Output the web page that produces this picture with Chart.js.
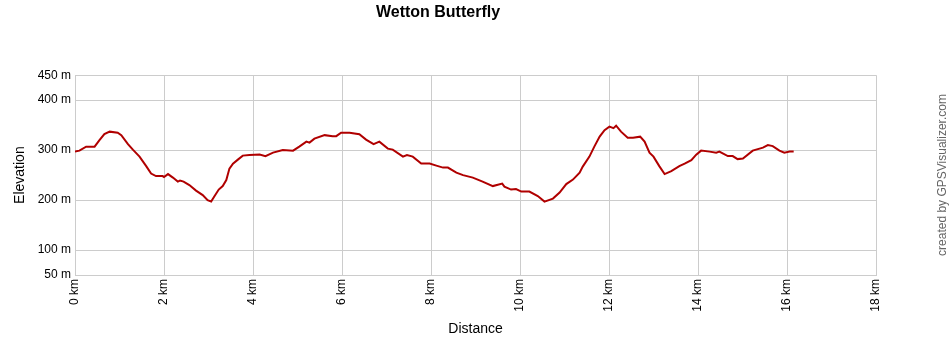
<!DOCTYPE html>
<html>
<head>
<meta charset="utf-8">
<title>Wetton Butterfly</title>
<script src="https://cdn.jsdelivr.net/npm/chart.js@4/dist/chart.umd.min.js"></script>
<style>
  body { margin: 0; background: #fff; }
  #wrap { width: 950px; height: 350px; }
</style>
</head>
<body>
<div id="wrap"><canvas id="profile" width="950" height="350"></canvas></div>
<script>
// distance along the track (km) and elevation (m)
const distanceKm = [
  0, 0.1, 0.25, 0.44, 0.55, 0.66, 0.78, 0.96, 1.04, 1.19,
  1.3, 1.45, 1.6, 1.71, 1.82, 1.97, 2.0, 2.09, 2.2, 2.31,
  2.36, 2.44, 2.57, 2.72, 2.87, 2.98, 3.06, 3.13, 3.23, 3.32,
  3.4, 3.47, 3.55, 3.66, 3.77, 3.92, 4.15, 4.28, 4.45, 4.67,
  4.9, 5.04, 5.2, 5.27, 5.38, 5.61, 5.79, 5.87, 5.98, 6.17,
  6.39, 6.54, 6.71, 6.84, 7.03, 7.14, 7.37, 7.46, 7.59, 7.78,
  7.97, 8.12, 8.27, 8.38, 8.57, 8.72, 8.94, 9.16, 9.39, 9.6,
  9.65, 9.8, 9.91, 10.03, 10.21, 10.4, 10.55, 10.74, 10.89, 11.04,
  11.19, 11.34, 11.41, 11.56, 11.67, 11.79, 11.9, 12.01, 12.1, 12.16,
  12.27, 12.42, 12.54, 12.7, 12.8, 12.91, 13.0, 13.13, 13.25, 13.4,
  13.58, 13.7, 13.85, 13.96, 14.07, 14.26, 14.41, 14.48, 14.67, 14.78,
  14.89, 15.01, 15.23, 15.46, 15.57, 15.68, 15.83, 15.94, 16.06, 16.15
];
const elevationM = [
  297, 299, 307, 307, 320, 332, 337, 335, 330, 312,
  301, 287, 268, 253, 248, 248, 246, 252, 245, 237,
  239, 237, 230, 219, 210, 200, 197, 207, 221, 228,
  240, 263, 273, 281, 289, 290, 291, 288, 295, 300,
  299, 307, 317, 315, 323, 330, 328, 328, 335, 335,
  332, 321, 312, 317, 303, 301, 287, 290, 287, 273,
  273, 269, 265, 265, 255, 250, 245, 237, 228, 233,
  227, 221, 222, 217, 217, 208, 197, 203, 215, 232,
  241, 255, 267, 287, 307, 327, 340, 347, 344, 349,
  337, 325, 325, 327, 317, 295, 287, 268, 252, 258,
  268, 273, 280, 291, 299, 297, 295, 297, 288, 288,
  282, 283, 299, 305, 310, 308, 299, 295, 297, 297
];
const elevationTicks = [50, 100, 200, 300, 400, 450];

const points = distanceKm.map((d, i) => ({ x: d, y: elevationM[i] }));

// the "created by" credit down the right edge
const creditPlugin = {
  id: 'credit',
  afterDraw(chart) {
    const ctx = chart.ctx;
    ctx.save();
    ctx.translate(943, 175);
    ctx.rotate(-Math.PI / 2);
    ctx.fillStyle = '#666';
    ctx.font = '12px "Liberation Sans", Arial, sans-serif';
    ctx.textAlign = 'center';
    ctx.textBaseline = 'middle';
    ctx.fillText('created by GPSVisualizer.com', 0, 0);
    ctx.restore();
  }
};

const tickFont = { family: '"Liberation Sans", Arial, sans-serif', size: 12 };

new Chart(document.getElementById('profile'), {
  type: 'line',
  data: {
    datasets: [{
      data: points,
      borderColor: '#b00000',
      borderWidth: 2,
      pointRadius: 0,
      tension: 0,
      fill: false
    }]
  },
  options: {
    responsive: false,
    animation: false,
    layout: { padding: { left: 0, right: 74, top: 0, bottom: 0 } },
    plugins: {
      legend: { display: false },
      tooltip: { enabled: false },
      title: {
        display: true,
        text: 'Wetton Butterfly',
        color: '#000',
        font: { family: '"Liberation Sans", Arial, sans-serif', size: 16, weight: 'bold' },
        padding: { top: 3, bottom: 53 }
      }
    },
    scales: {
      x: {
        type: 'linear',
        min: 0,
        max: 18,
        afterFit(s) { s.height = 75; },
        ticks: {
          stepSize: 2,
          minRotation: 90,
          maxRotation: 90,
          padding: 4,
          color: '#000',
          font: tickFont,
          callback: v => v + ' km'
        },
        grid: { color: '#cccccc', drawTicks: false },
        border: { color: '#cccccc' },
        title: {
          display: true,
          text: 'Distance',
          color: '#000',
          font: { family: '"Liberation Sans", Arial, sans-serif', size: 14 },
          padding: { top: 0, bottom: 12 }
        }
      },
      y: {
        min: 50,
        max: 450,
        afterFit(s) { s.width = 75; },
        afterBuildTicks(s) { s.ticks = elevationTicks.map(v => ({ value: v })); },
        ticks: {
          padding: 4,
          color: '#000',
          font: tickFont,
          callback: v => v + ' m'
        },
        grid: { color: '#cccccc', drawTicks: false },
        border: { color: '#cccccc' },
        title: {
          display: true,
          text: 'Elevation',
          color: '#000',
          font: { family: '"Liberation Sans", Arial, sans-serif', size: 14 },
          padding: { top: 12, bottom: 0 }
        }
      }
    }
  },
  plugins: [creditPlugin]
});
</script>
</body>
</html>
